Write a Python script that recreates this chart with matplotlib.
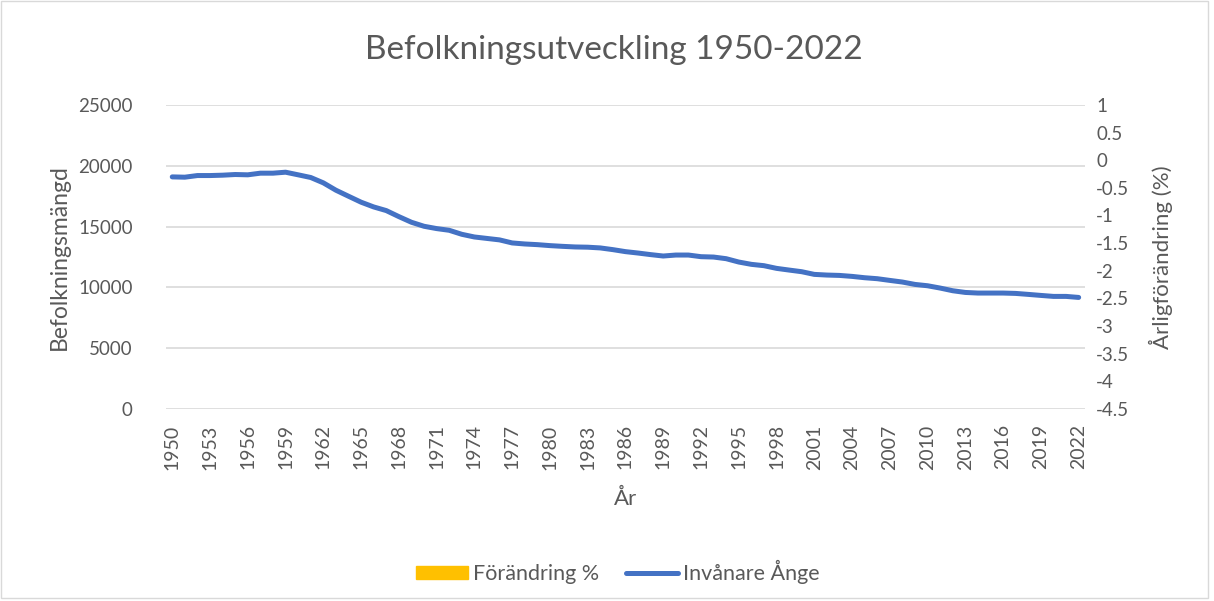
import numpy as np
import matplotlib.pyplot as plt
from matplotlib.patches import Patch, Rectangle

# år 1950-2022
years = list(range(1950, 2023))

# invånare i Ånge
invanare = [
    19080, 19055, 19190, 19190, 19220, 19275, 19250, 19385, 19385, 19465,
    19250, 19030, 18590, 17985, 17490, 17000, 16610, 16310, 15815, 15350,
    15020, 14830, 14690, 14360, 14140, 14020, 13900, 13650, 13565, 13510,
    13430, 13370, 13320, 13300, 13240, 13100, 12935, 12820, 12690, 12575,
    12655, 12655, 12520, 12490, 12355, 12080, 11890, 11780, 11560, 11420,
    11285, 11065, 11010, 10980, 10900, 10790, 10710, 10570, 10435, 10240,
    10130, 9940, 9720, 9580, 9530, 9530, 9530, 9500, 9420, 9335,
    9255, 9255, 9170,
]

# årlig förändring (%) - inga värden syns i diagrammet
forandring = []

left_ticks = [0, 5000, 10000, 15000, 20000, 25000]
right_ticks = np.arange(-4.5, 1.01, 0.5)

grey = "#595959"
plt.rcParams['font.family'] = ['Lato', 'DejaVu Sans']

fig = plt.figure(figsize=(12.14, 6.01), dpi=100)
ax = fig.add_axes([0.1367, 0.3195, 0.757, 0.506])
ax2 = ax.twinx()

x = np.arange(len(years))
ax2.bar(x[:len(forandring)], forandring, color="#FFC000", width=0.6)
ax.plot(x, invanare, color="#4472C4", lw=3.6, solid_capstyle="round",
        solid_joinstyle="round", zorder=3)

ax.set_xlim(-0.5, len(years) - 0.5)
ax.set_ylim(0, 25000)
ax2.set_ylim(-4.5, 1)

ax.set_yticks(left_ticks)
ax.set_yticklabels([str(v) for v in left_ticks])
ax2.set_yticks(right_ticks)
ax2.set_yticklabels([f"{v:g}" for v in right_ticks])

ax.set_xticks(x[::3])
ax.set_xticklabels([str(y) for y in years[::3]], rotation=90)

ax.grid(axis="y", color="#D9D9D9", lw=1.2)
ax.set_axisbelow(True)
for a in (ax, ax2):
    for s in a.spines.values():
        s.set_visible(False)
    a.tick_params(length=0, colors=grey, labelsize=13.5)
ax.tick_params(axis="y", pad=24)
ax.tick_params(axis="x", pad=11, labelsize=14)
ax2.tick_params(axis="y", pad=8)

ax.set_ylabel("Befolkningsmängd", fontsize=16.5, color=grey, labelpad=6)
ax2.set_ylabel("Årligförändring (%)", fontsize=16, color=grey, rotation=90, labelpad=14)
ax.set_xlabel("År", fontsize=16, color=grey, labelpad=14)

fig.text(0.5055, 0.917, "Befolkningsutveckling 1950-2022", ha="center", va="center",
         fontsize=24, color=grey)

handles = [Patch(color="#FFC000"),
           plt.Line2D([], [], color="#4472C4", lw=3.6, solid_capstyle="round")]
fig.legend(handles, ["Förändring %", "Invånare Ånge"], loc="center",
           bbox_to_anchor=(0.509, 0.048), ncol=2, frameon=False, fontsize=15.5,
           labelcolor=grey, handlelength=2.4, handleheight=0.55,
           handletextpad=0.25, columnspacing=1.25)

fig.patches.append(Rectangle((0.0008, 0.005), 0.994, 0.993, transform=fig.transFigure,
                             fill=False, ec="#D9D9D9", lw=1))

plt.savefig("out.png", dpi=100)
